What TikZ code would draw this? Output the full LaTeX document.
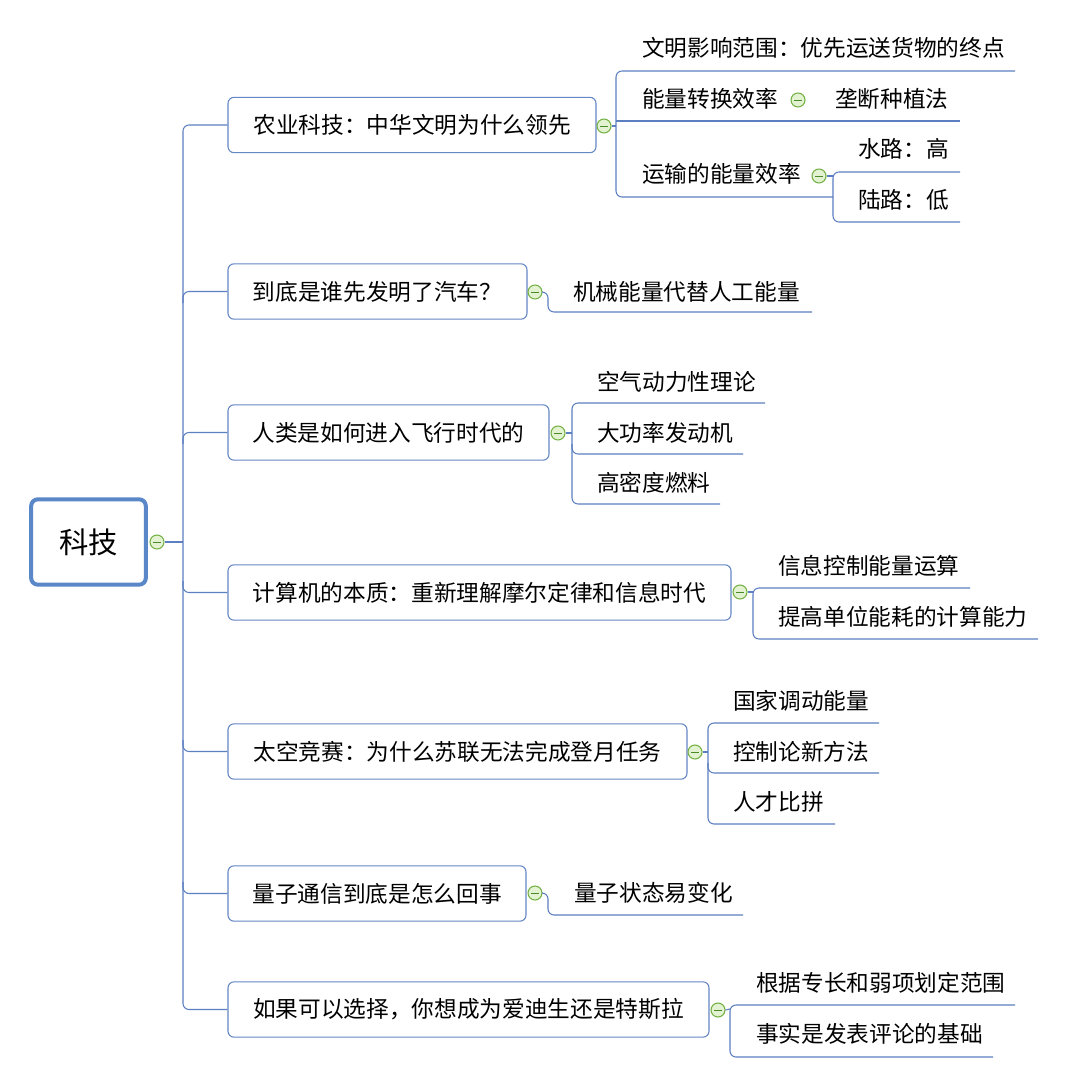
\documentclass[tikz,border=0pt]{standalone}
\usepackage{fontspec}
\setmainfont{Noto Sans CJK SC}
\definecolor{lineblue}{HTML}{5B7FC0}
\definecolor{boxblue}{HTML}{6487C6}
\definecolor{rootblue}{HTML}{5A87C8}
\definecolor{toggreen}{HTML}{72B043}
\definecolor{togfill}{HTML}{E3F2D0}
\definecolor{togdark}{HTML}{4A8A2A}
\begin{document}
\begin{tikzpicture}[x=0.75pt,y=-0.75pt,
  conn/.style={draw=lineblue, line width=0.8pt},
  rc/.style={rounded corners=4.5pt},
  root/.style={draw=rootblue, line width=3pt, rounded corners=5pt, fill=white,
    minimum width=86pt, minimum height=64pt, inner sep=0pt, font=\fontsize{22}{26}\selectfont},
  lbox/.style={draw=boxblue, line width=0.8pt, rounded corners=4.5pt, fill=white,
    minimum height=41.5pt, inner sep=0pt, font=\fontsize{17}{20}\selectfont},
  ltext/.style={anchor=west, inner sep=0pt, font=\fontsize{17}{20}\selectfont},
  tog/.style={circle, draw=toggreen, line width=0.8pt, fill=togfill, minimum size=10.5pt, inner sep=0pt,
    path picture={\draw[togdark, line width=0.7pt] ([xshift=-2.8pt]path picture bounding box.center) -- ([xshift=2.8pt]path picture bounding box.center);}}
]
\useasboundingbox[fill=white] (0,0) rectangle (1066,1084);

% root
\node[root] (root) at (88.5,542) {科技};
\node[tog] (k0) at (157,542) {};
\coordinate (s0) at (183,542);
\draw[conn] (k0.east) -- (s0);

% level 2 boxes
\node[lbox, minimum width=276pt] (b1) at (412,125) {农业科技：中华文明为什么领先};
\node[lbox, minimum width=224.25pt] (b2) at (377.5,291.5) {到底是谁先发明了汽车？};
\node[lbox, minimum width=240.75pt] (b3) at (388.5,432.5) {人类是如何进入飞行时代的};
\node[lbox, minimum width=377.25pt] (b4) at (479.5,592.5) {计算机的本质：重新理解摩尔定律和信息时代};
\node[lbox, minimum width=344.25pt] (b5) at (457.5,751.5) {太空竞赛：为什么苏联无法完成登月任务};
\node[lbox, minimum width=223.5pt] (b6) at (377,893.5) {量子通信到底是怎么回事};
\node[lbox, minimum width=360.75pt] (b7) at (468.5,1009.5) {如果可以选择，你想成为爱迪生还是特斯拉};

\draw[conn, rc] (b1.west) -- (183,125) -- (183,1009.5) -- (b7.west);
\draw[conn, rc] (b2.west) -- (183,291.5) -- (183,303);
\draw[conn, rc] (b3.west) -- (183,432.5) -- (183,444);
\draw[conn, rc] (183,581) -- (183,592.5) -- (b4.west);
\draw[conn, rc] (183,740) -- (183,751.5) -- (b5.west);
\draw[conn, rc] (183,882) -- (183,893.5) -- (b6.west);

\node[tog] (k1) at (604,126) {};
\node[tog] (k2) at (535,292) {};
\node[tog] (k3) at (558,433) {};
\node[tog] (k4) at (740,592) {};
\node[tog] (k5) at (695,752) {};
\node[tog] (k6) at (535,893) {};
\node[tog] (k7) at (718,1010) {};

% branch 1
\coordinate (s1) at (616,126);
\draw[conn] (k1.east) -- (s1);
\draw[conn, rc] (1015,71) -- (616,71) -- (616,197) -- (833,197);
\draw[conn] (616,121) -- (960,121);
\draw[conn, rc] (960,172) -- (833,172) -- (833,222) -- (960,222);
\node[ltext] (t11) at (642,48) {文明影响范围：优先运送货物的终点};
\node[ltext] (t12) at (642,99) {能量转换效率};
\node[ltext] (t121) at (835,99) {垄断种植法};
\node[ltext] (t13) at (642,174) {运输的能量效率};
\node[ltext] (t131) at (858,149) {水路：高};
\node[ltext] (t132) at (858,200) {陆路：低};
\node[tog] (k12) at (798,100) {};
\node[tog] (k13) at (819,176) {};
\coordinate (s13) at (833,176);
\draw[conn] (k13.east) -- (s13);

% branch 2
\draw[conn, rc] (k2.east) -- (548,292) -- (548,312) -- (812,312);
\node[ltext] (t21) at (573,292) {机械能量代替人工能量};

% branch 3
\coordinate (s3) at (572,433);
\draw[conn] (k3.east) -- (s3);
\draw[conn, rc] (765,403) -- (572,403) -- (572,504) -- (720,504);
\draw[conn, rc] (572,444) -- (572,454) -- (743,454);
\node[ltext] (t31) at (597,382) {空气动力性理论};
\node[ltext] (t32) at (597,433) {大功率发动机};
\node[ltext] (t33) at (597,483) {高密度燃料};

% branch 4
\coordinate (s4) at (753,592);
\draw[conn] (k4.east) -- (s4);
\draw[conn, rc] (970,588) -- (753,588) -- (753,639) -- (1038,639);
\node[ltext] (t41) at (778,566) {信息控制能量运算};
\node[ltext] (t42) at (778,617) {提高单位能耗的计算能力};

% branch 5
\coordinate (s5) at (708,752);
\draw[conn] (k5.east) -- (s5);
\draw[conn, rc] (879,723) -- (708,723) -- (708,824) -- (835,824);
\draw[conn, rc] (708,763) -- (708,773) -- (879,773);
\node[ltext] (t51) at (733,701) {国家调动能量};
\node[ltext] (t52) at (733,752) {控制论新方法};
\node[ltext] (t53) at (733,802) {人才比拼};

% branch 6
\draw[conn, rc] (k6.east) -- (548,893) -- (548,915) -- (743,915);
\node[ltext] (t61) at (574,893) {量子状态易变化};

% branch 7
\coordinate (s7) at (730,1009);
\draw[conn] (k7.east) -- (s7);
\draw[conn, rc] (1015,1005) -- (730,1005) -- (730,1057) -- (993,1057);
\node[ltext] (t71) at (756,983) {根据专长和弱项划定范围};
\node[ltext] (t72) at (756,1034) {事实是发表评论的基础};
\end{tikzpicture}
\end{document}
